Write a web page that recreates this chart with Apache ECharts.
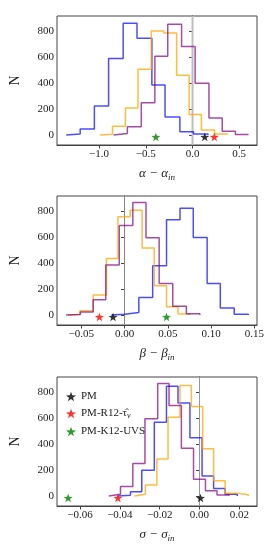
<!DOCTYPE html>
<html>
<head>
<meta charset="utf-8">
<script src="https://cdn.jsdelivr.net/npm/echarts@6/dist/echarts.min.js"></script>
<style>html,body{margin:0;padding:0;background:#fff;}#c{width:277px;height:554px;}</style>
</head>
<body>
<div id="c"></div>
<script>
// ---- Panel 1: alpha - alpha_in ----
const alphaBlueEdges   = [-1.351, -1.202, -1.050, -0.898, -0.742, -0.594, -0.435, -0.294, -0.135, 0.011, 0.166];
const alphaBlueCounts  = [8, 46, 222, 588, 859, 744, 384, 139, 24, 7];
const alphaOrangeEdges = [-0.990, -0.856, -0.718, -0.583, -0.442, -0.308, -0.170, -0.036, 0.095, 0.236, 0.371];
const alphaOrangeCounts= [6, 68, 207, 506, 800, 784, 460, 157, 38, 8];
const alphaPurpleEdges = [-0.845, -0.697, -0.548, -0.403, -0.265, -0.117, 0.028, 0.176, 0.318, 0.459, 0.600];
const alphaPurpleCounts= [12, 64, 247, 605, 852, 680, 398, 130, 28, 4];
const alphaStars = {PM: 0.131, R12: 0.233, K12: -0.392};
const alphaTicks = [-1.0, -0.5, 0.0, 0.5];

// ---- Panel 2: beta - beta_in ----
const betaBlueEdges    = [-0.0152, 0.0000, 0.0165, 0.0325, 0.0485, 0.0641, 0.0794, 0.0954, 0.1106, 0.1267, 0.1430];
const betaBlueCounts   = [5, 20, 134, 379, 733, 820, 596, 243, 53, 6];
const betaOrangeEdges  = [-0.0653, -0.0515, -0.0362, -0.0209, -0.0076, 0.0065, 0.0203, 0.0343, 0.0485, 0.0618, 0.0755];
const betaOrangeCounts = [5, 32, 154, 434, 756, 806, 516, 224, 64, 8];
const betaPurpleEdges  = [-0.0675, -0.0511, -0.0362, -0.0217, -0.0061, 0.0096, 0.0248, 0.0400, 0.0557, 0.0714, 0.0870];
const betaPurpleCounts = [3, 23, 118, 385, 688, 865, 594, 243, 67, 10];
const betaStars = {PM: -0.0133, R12: -0.029, K12: 0.0485};
const betaTicks = [-0.05, 0.00, 0.05, 0.10, 0.15];

// ---- Panel 3: sigma - sigma_in ----
const sigmaBlueEdges    = [-0.0409, -0.0347, -0.0290, -0.0227, -0.0166, -0.0108, -0.0048, 0.0013, 0.0071, 0.0129, 0.0190];
const sigmaBlueCounts   = [5, 33, 198, 567, 844, 715, 447, 154, 58, 13];
const sigmaOrangeEdges  = [-0.0327, -0.0272, -0.0214, -0.0158, -0.0098, -0.0041, 0.0016, 0.0071, 0.0129, 0.0188, 0.0245];
const sigmaOrangeCounts = [13, 84, 285, 606, 849, 688, 363, 117, 22, 10];
const sigmaPurpleEdges  = [-0.0456, -0.0397, -0.0335, -0.0274, -0.0210, -0.0153, -0.0091, -0.0030, 0.0030, 0.0088, 0.0148];
const sigmaPurpleCounts = [13, 72, 250, 593, 865, 695, 368, 128, 40, 8];
const sigmaStars = {PM: 0.0005, R12: -0.041, K12: -0.066};
const sigmaTicks = [-0.06, -0.04, -0.02, 0.00, 0.02];

const yTicks = [0, 200, 400, 600, 800];
const starY = -15;

const FONT = 'Liberation Serif';
const STAR = 'path://M0,-10 L2.35,-3.24 L9.51,-3.09 L3.8,1.24 L5.88,8.09 L0,4 L-5.88,8.09 L-3.8,1.24 L-9.51,-3.09 L-2.35,-3.24 Z';
const C_BLUE = '#0000ff', C_ORANGE = '#ffa500', C_PURPLE = '#800080';

function stepData(edges, counts) {
  const pts = [[edges[0], 0]];
  for (let i = 0; i < counts.length; i++) {
    pts.push([edges[i], counts[i]]);
    pts.push([edges[i + 1], counts[i]]);
  }
  pts.push([edges[edges.length - 1], 0]);
  return pts;
}
function fmt(dec) {
  return v => (v < 0 ? '\u2212' : '') + Math.abs(v).toFixed(dec);
}

const grids = [
  {left: 55, top: 16, width: 202, height: 129},
  {left: 55, top: 196, width: 202, height: 129},
  {left: 55, top: 377, width: 202, height: 129}
].map(g => Object.assign(g, {show: true, borderColor: '#444', borderWidth: 1, backgroundColor: 'transparent'}));

const xRanges = [[-1.45, 0.69], [-0.078, 0.153], [-0.0716, 0.0289]];
const xTickSets = [alphaTicks, betaTicks, sigmaTicks];
const xDec = [1, 2, 2];
const xNames = [['\u03b1', '\u03b1'], ['\u03b2', '\u03b2'], ['\u03c3', '\u03c3']];

const xAxes = xRanges.map((r, i) => ({
  type: 'value', gridIndex: i, min: r[0], max: r[1],
  axisLine: {show: true, onZero: false, lineStyle: {color: '#444', width: 1}},
  axisTick: {show: true, length: 3.5, lineStyle: {color: '#444'}, customValues: xTickSets[i]},
  axisLabel: {show: true, customValues: xTickSets[i], formatter: fmt(xDec[i]), fontFamily: FONT, fontSize: 11, color: '#222', margin: 4},
  splitLine: {show: false},
  name: '{m|' + xNames[i][0] + ' \u2212 ' + xNames[i][1] + '}{s|in}',
  nameLocation: 'middle', nameGap: 21,
  nameTextStyle: {
    rich: {
      m: {fontFamily: FONT, fontSize: 13, fontStyle: 'italic', color: '#222', lineHeight: 16},
      s: {fontFamily: FONT, fontSize: 9, fontStyle: 'italic', color: '#222', lineHeight: 16, padding: [7, 0, 0, 0]}
    }
  }
}));

const yAxes = [0, 1, 2].map(i => ({
  type: 'value', gridIndex: i, min: -77, max: 915,
  axisLine: {show: true, lineStyle: {color: '#444', width: 1}},
  axisTick: {show: true, length: 3.5, lineStyle: {color: '#444'}, customValues: yTicks},
  axisLabel: {show: true, customValues: yTicks, fontFamily: FONT, fontSize: 11, color: '#222', margin: 3},
  splitLine: {show: false},
  name: 'N', nameLocation: 'middle', nameGap: 35,
  nameTextStyle: {fontFamily: FONT, fontSize: 14, color: '#222'}
}));

const series = [];
const panels = [
  [alphaBlueEdges, alphaBlueCounts, alphaOrangeEdges, alphaOrangeCounts, alphaPurpleEdges, alphaPurpleCounts, alphaStars],
  [betaBlueEdges, betaBlueCounts, betaOrangeEdges, betaOrangeCounts, betaPurpleEdges, betaPurpleCounts, betaStars],
  [sigmaBlueEdges, sigmaBlueCounts, sigmaOrangeEdges, sigmaOrangeCounts, sigmaPurpleEdges, sigmaPurpleCounts, sigmaStars]
];
const vlineStyles = [
  {color: '#bdbdbd', width: 2},
  {color: '#8a8a8a', width: 1},
  {color: '#999999', width: 1}
];
panels.forEach((p, i) => {
  series.push({
    type: 'line', xAxisIndex: i, yAxisIndex: i, silent: true, z: 1,
    data: [[0, -77], [0, 915]], showSymbol: false, symbol: 'none',
    lineStyle: vlineStyles[i]
  });
  const hist = [[p[0], p[1], C_BLUE, 0.7], [p[2], p[3], C_ORANGE, 0.75], [p[4], p[5], C_PURPLE, 0.7]];
  hist.forEach(h => {
    series.push({
      type: 'line', xAxisIndex: i, yAxisIndex: i, silent: true, z: 2,
      data: stepData(h[0], h[1]), showSymbol: false, symbol: 'none',
      lineStyle: {color: h[2], width: 1.5, opacity: h[3]}
    });
  });
  const st = p[6];
  [['PM', st.PM, '#000000'], ['PM-R12', st.R12, '#ff0000'], ['PM-K12-UVS', st.K12, '#008000']].forEach(s => {
    series.push({
      name: s[0], type: 'scatter', xAxisIndex: i, yAxisIndex: i, z: 5,
      data: [[s[1], starY]], symbol: STAR, symbolSize: 9, symbolKeepAspect: true,
      itemStyle: {color: s[2]}
    });
  });
});

const legendLabels = {'PM': 'PM', 'PM-R12': 'PM-R12-\u03c4\u0302{s|v}', 'PM-K12-UVS': 'PM-K12-UVS'};

const chart = echarts.init(document.getElementById('c'), null, {renderer: 'canvas'});
chart.setOption({
  animation: false,
  backgroundColor: '#fff',
  grid: grids,
  xAxis: xAxes,
  yAxis: yAxes,
  legend: {
    orient: 'vertical', left: 61, top: 386, itemWidth: 10, itemHeight: 10, itemGap: 6,
    data: ['PM', 'PM-R12', 'PM-K12-UVS'].map(n => ({name: n, icon: STAR})),
    formatter: n => legendLabels[n],
    textStyle: {
      fontFamily: FONT, fontSize: 11, color: '#222',
      rich: {s: {fontFamily: FONT, fontSize: 8, fontStyle: 'italic', color: '#222', padding: [5, 0, 0, 0]}}
    },
    selectedMode: false
  },
  series: series
});
</script>
</body>
</html>
